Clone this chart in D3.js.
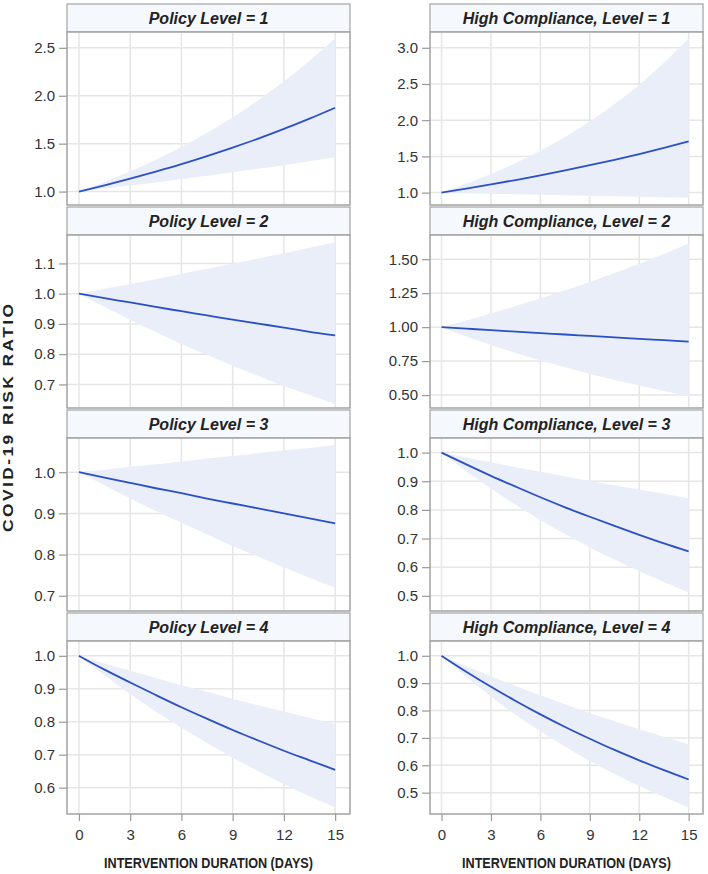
<!DOCTYPE html>
<html>
<head>
<meta charset="utf-8">
<script src="https://cdn.jsdelivr.net/npm/d3@7"></script>
<style>
  html, body { margin: 0; padding: 0; background: #fff; }
  svg { display: block; font-family: "Liberation Sans", Arial, sans-serif; }
</style>
</head>
<body>
<svg id="chart" width="708" height="874"></svg>
<script>
// ---- data ----
const days = [0, 1.5, 3, 4.5, 6, 7.5, 9, 10.5, 12, 13.5, 15];
const xTicks = [0, 3, 6, 9, 12, 15];

const panelTitles = [
  "Policy Level = 1", "High Compliance, Level = 1",
  "Policy Level = 2", "High Compliance, Level = 2",
  "Policy Level = 3", "High Compliance, Level = 3",
  "Policy Level = 4", "High Compliance, Level = 4"
];

// estimates, lower and upper limits
const p1Est = [1.000,1.065,1.134,1.208,1.286,1.370,1.459,1.553,1.654,1.761,1.875];
const p1Hi  = [1.000,1.100,1.211,1.332,1.466,1.613,1.775,1.953,2.149,2.364,2.600];
const p1Lo  = [1.000,1.031,1.063,1.096,1.130,1.165,1.201,1.238,1.276,1.316,1.357];

const p2Est = [1.000,0.985,0.971,0.956,0.942,0.928,0.914,0.901,0.888,0.874,0.862];
const p2Hi  = [1.000,1.016,1.032,1.048,1.065,1.082,1.099,1.116,1.134,1.152,1.170];
const p2Lo  = [1.000,0.956,0.913,0.873,0.834,0.797,0.762,0.728,0.695,0.665,0.635];

const p3Est = [1.000,0.987,0.974,0.961,0.949,0.936,0.924,0.912,0.900,0.888,0.876];
const p3Hi  = [1.000,1.006,1.013,1.019,1.026,1.033,1.039,1.046,1.053,1.059,1.066];
const p3Lo  = [1.000,0.968,0.936,0.906,0.877,0.849,0.821,0.795,0.769,0.744,0.720];

const p4Est = [1.000,0.958,0.919,0.881,0.844,0.809,0.775,0.743,0.712,0.683,0.654];
const p4Hi  = [1.000,0.977,0.955,0.933,0.911,0.891,0.870,0.850,0.831,0.812,0.793];
const p4Lo  = [1.000,0.940,0.884,0.831,0.782,0.735,0.691,0.650,0.611,0.574,0.540];

const h1Est = [1.000,1.055,1.113,1.174,1.238,1.306,1.378,1.453,1.533,1.617,1.706];
const h1Hi  = [1.000,1.121,1.256,1.408,1.578,1.769,1.983,2.223,2.491,2.792,3.130];
const h1Lo  = [1.000,0.993,0.986,0.979,0.971,0.964,0.957,0.950,0.944,0.937,0.930];

const h2Est = [1.000,0.989,0.978,0.967,0.956,0.946,0.935,0.925,0.914,0.904,0.894];
const h2Hi  = [1.000,1.049,1.101,1.155,1.211,1.271,1.333,1.399,1.467,1.539,1.615];
const h2Lo  = [1.000,0.932,0.869,0.810,0.755,0.704,0.656,0.611,0.570,0.531,0.495];

const h3Est = [1.000,0.959,0.919,0.881,0.844,0.809,0.776,0.744,0.713,0.683,0.655];
const h3Hi  = [1.000,0.983,0.966,0.949,0.933,0.917,0.901,0.886,0.871,0.856,0.841];
const h3Lo  = [1.000,0.935,0.875,0.818,0.765,0.716,0.669,0.626,0.586,0.548,0.512];

const h4Est = [1.000,0.942,0.887,0.835,0.786,0.740,0.697,0.656,0.618,0.582,0.548];
const h4Hi  = [1.000,0.962,0.925,0.890,0.856,0.823,0.791,0.761,0.732,0.704,0.677];
const h4Lo  = [1.000,0.923,0.851,0.785,0.724,0.668,0.616,0.568,0.524,0.484,0.446];

// axis ranges and tick labels per panel
const yDomains = [
  [0.86, 2.665], [0.829, 3.218],
  [0.622, 1.194], [0.405, 1.678],
  [0.663, 1.083], [0.447, 1.051],
  [0.52, 1.045], [0.422, 1.054]
];
const yTickLabels = [
  ["1.0","1.5","2.0","2.5"], ["1.0","1.5","2.0","2.5","3.0"],
  ["0.7","0.8","0.9","1.0","1.1"], ["0.50","0.75","1.00","1.25","1.50"],
  ["0.7","0.8","0.9","1.0"], ["0.5","0.6","0.7","0.8","0.9","1.0"],
  ["0.6","0.7","0.8","0.9","1.0"], ["0.5","0.6","0.7","0.8","0.9","1.0"]
];
const estimates = [p1Est, h1Est, p2Est, h2Est, p3Est, h3Est, p4Est, h4Est];
const uppers    = [p1Hi,  h1Hi,  p2Hi,  h2Hi,  p3Hi,  h3Hi,  p4Hi,  h4Hi];
const lowers    = [p1Lo,  h1Lo,  p2Lo,  h2Lo,  p3Lo,  h3Lo,  p4Lo,  h4Lo];

const yTitle = "COVID-19 RISK RATIO";
const xTitle = "INTERVENTION DURATION (DAYS)";

// ---- layout ----
const svg = d3.select("#chart");
const colX = [[67, 350], [430, 703]];
const rowTop0 = 4, headerH = 28, plotH = 173, rowPitch = 203;
const xDomain = [-0.7, 15.87];

const C = {
  frame: "#a3a3a3", header: "#f5f8fd", grid: "#e6e6e6",
  band: "#e9eef8", line: "#2b4fc4", text: "#333333", tick: "#999999"
};

const defs = svg.append("defs");

panelTitles.forEach((title, i) => {
  const col = i % 2, row = Math.floor(i / 2);
  const [x0, x1] = colX[col];
  const hy = rowTop0 + row * rowPitch;
  const py0 = hy + headerH, py1 = py0 + plotH;

  const x = d3.scaleLinear().domain(xDomain).range([x0, x1]);
  const y = d3.scaleLinear().domain(yDomains[i]).range([py1, py0]);
  const yVals = yTickLabels[i].map(Number);

  const g = svg.append("g");

  // header
  g.append("rect").attr("x", x0).attr("y", hy).attr("width", x1 - x0).attr("height", headerH)
    .attr("fill", C.header).attr("stroke", C.frame).attr("stroke-width", 1.2);
  g.append("text").attr("x", (x0 + x1) / 2).attr("y", hy + headerH / 2 + 5.5)
    .attr("text-anchor", "middle").attr("font-size", 16).attr("font-weight", "bold")
    .attr("font-style", "italic").attr("fill", "#222").text(title);

  // plot background
  g.append("rect").attr("x", x0).attr("y", py0).attr("width", x1 - x0).attr("height", plotH)
    .attr("fill", "#fff");

  // grid
  g.append("g").selectAll("line.gx").data(xTicks).join("line")
    .attr("x1", d => x(d)).attr("x2", d => x(d)).attr("y1", py0).attr("y2", py1)
    .attr("stroke", C.grid).attr("stroke-width", 1.5);
  g.append("g").selectAll("line.gy").data(yVals).join("line")
    .attr("x1", x0).attr("x2", x1).attr("y1", d => y(d)).attr("y2", d => y(d))
    .attr("stroke", C.grid).attr("stroke-width", 1.5);

  // clip
  const clipId = "clip" + i;
  defs.append("clipPath").attr("id", clipId).append("rect")
    .attr("x", x0).attr("y", py0).attr("width", x1 - x0).attr("height", plotH);

  const pts = days.map((d, k) => ({ t: d, est: estimates[i][k], lo: lowers[i][k], hi: uppers[i][k] }));
  const area = d3.area().x(d => x(d.t)).y0(d => y(d.lo)).y1(d => y(d.hi)).curve(d3.curveMonotoneX);
  const line = d3.line().x(d => x(d.t)).y(d => y(d.est)).curve(d3.curveMonotoneX);

  const inner = g.append("g").attr("clip-path", `url(#${clipId})`);
  inner.append("path").datum(pts).attr("d", area).attr("fill", C.band);
  inner.append("path").datum(pts).attr("d", line).attr("fill", "none")
    .attr("stroke", C.line).attr("stroke-width", 1.8);

  // frame
  g.append("rect").attr("x", x0).attr("y", py0).attr("width", x1 - x0).attr("height", plotH)
    .attr("fill", "none").attr("stroke", C.frame).attr("stroke-width", 1.5);

  // y axis
  const yAxis = d3.axisLeft(y).tickValues(yVals).tickSize(8).tickPadding(4)
    .tickFormat((d, k) => yTickLabels[i][k]);
  const ya = g.append("g").attr("transform", `translate(${x0},0)`).call(yAxis);
  ya.select(".domain").remove();
  ya.selectAll(".tick line").attr("stroke", C.tick).attr("stroke-width", 1.2);
  ya.selectAll(".tick text").attr("font-size", 15).attr("fill", C.text)
    .attr("font-family", "'Liberation Sans', Arial, sans-serif");

  // x axis on bottom row
  if (row === 3) {
    const xAxis = d3.axisBottom(x).tickValues(xTicks).tickSize(7).tickPadding(8)
      .tickFormat(d3.format("d"));
    const xa = g.append("g").attr("transform", `translate(0,${py1})`).call(xAxis);
    xa.select(".domain").remove();
    xa.selectAll(".tick line").attr("stroke", C.tick).attr("stroke-width", 1.2);
    xa.selectAll(".tick text").attr("font-size", 15).attr("fill", C.text)
      .attr("font-family", "'Liberation Sans', Arial, sans-serif");

    g.append("text").attr("x", (x0 + x1) / 2).attr("y", 868)
      .attr("text-anchor", "middle").attr("font-size", 14).attr("font-weight", "bold")
      .attr("fill", "#222").attr("textLength", 209).attr("lengthAdjust", "spacingAndGlyphs")
      .text(xTitle);
  }
});

// y axis title
svg.append("text")
  .attr("transform", "translate(13,418) rotate(-90) scale(1.2,1)")
  .attr("text-anchor", "middle").attr("font-size", 14.5).attr("font-weight", "bold")
  .attr("fill", "#222").attr("textLength", 190).attr("lengthAdjust", "spacing")
  .text(yTitle);
</script>
</body>
</html>
